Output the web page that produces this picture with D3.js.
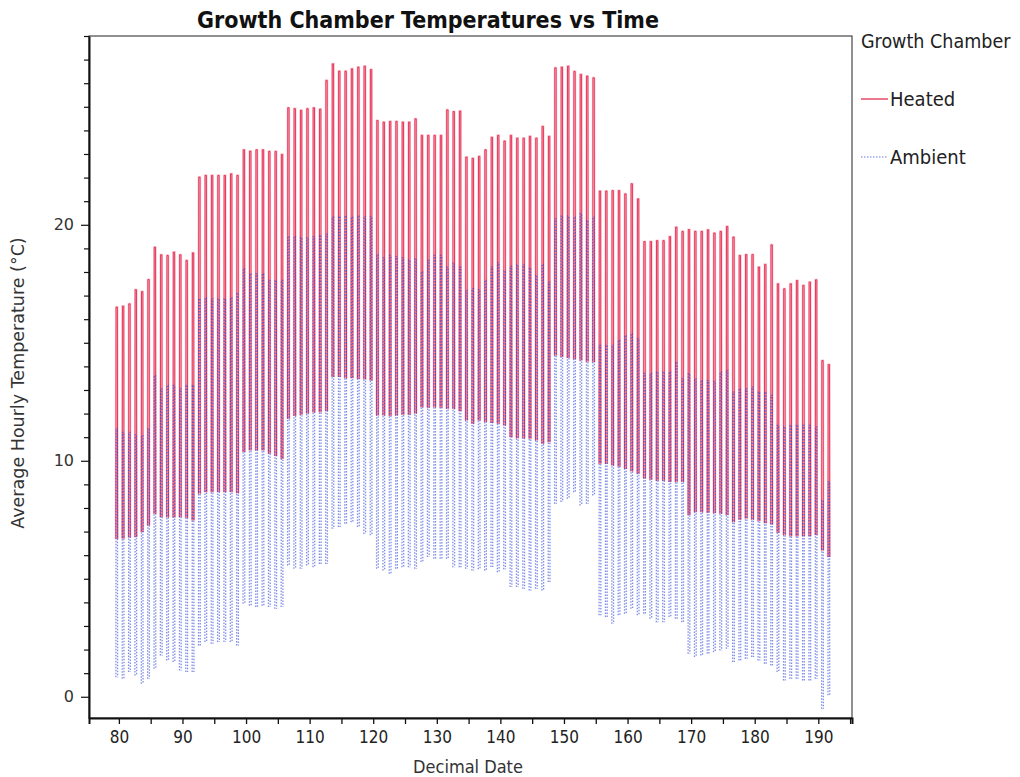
<!DOCTYPE html>
<html>
<head>
<meta charset="utf-8">
<script src="https://cdn.jsdelivr.net/npm/d3@7/dist/d3.min.js"></script>
<style>
  html, body { margin: 0; padding: 0; background: #fff; }
  svg { display: block; }
</style>
</head>
<body>
<svg id="chart" width="1020" height="777"></svg>
<script>
// Daily set-point extremes of the two growth chambers, one value per day
const firstDay = 79;
const heatedHigh = [
  16.51, 16.55, 16.65, 17.25, 17.17, 17.68,
  19.05, 18.73, 18.70, 18.84, 18.73, 18.49, 18.81,
  22.02, 22.09, 22.09, 22.09, 22.09, 22.16, 22.09,
  23.18, 23.12, 23.18, 23.18, 23.11, 23.11, 22.98,
  24.96, 24.92, 24.85, 24.92, 24.96, 24.90, 26.12,
  26.82, 26.51, 26.51, 26.61, 26.68, 26.72, 26.58,
  24.42, 24.35, 24.38, 24.38, 24.35, 24.35, 24.49,
  23.79, 23.79, 23.79, 23.79,
  24.87, 24.80, 24.82,
  22.87, 22.82, 22.90, 23.18, 23.71, 23.79, 23.55, 23.79, 23.67, 23.67, 23.75, 23.67, 24.17, 23.75,
  26.65, 26.68, 26.72, 26.50, 26.37, 26.30, 26.23,
  21.43, 21.43, 21.45, 21.45, 21.31, 21.74, 21.10,
  19.29, 19.29, 19.33, 19.33, 19.50, 19.90, 19.72,
  19.80, 19.72, 19.72, 19.79, 19.65, 19.72, 19.93,
  19.48, 18.70, 18.74, 18.74, 18.21, 18.32, 19.15,
  17.50, 17.29, 17.50, 17.64, 17.43, 17.57, 17.67,
  14.25, 14.08
];
const heatedLow = [
  6.69, 6.70, 6.75, 6.77, 6.98, 7.26,
  7.75, 7.61, 7.60, 7.60, 7.61, 7.58, 7.47,
  8.60, 8.67, 8.67, 8.67, 8.67, 8.67, 8.62,
  10.37, 10.44, 10.44, 10.44, 10.30, 10.20, 10.08,
  11.78, 11.90, 11.95, 12.00, 12.05, 12.06, 12.10,
  13.55, 13.55, 13.50, 13.50, 13.47, 13.45, 13.40,
  11.92, 11.92, 11.90, 11.92, 11.95, 11.95, 12.00,
  12.27, 12.25, 12.27, 12.25,
  12.20, 12.20, 12.10,
  11.71, 11.57, 11.71, 11.64, 11.60, 11.57, 11.50, 11.00, 10.95, 10.95, 10.93, 10.86, 10.72, 10.79,
  14.46, 14.40, 14.35, 14.30, 14.25, 14.20, 14.18,
  9.87, 9.87, 9.80, 9.75, 9.65, 9.55, 9.45,
  9.25, 9.20, 9.15, 9.15, 9.10, 9.10, 9.10,
  7.70, 7.82, 7.82, 7.80, 7.78, 7.75, 7.70,
  7.40, 7.50, 7.55, 7.50, 7.45, 7.35, 7.30,
  6.95, 6.85, 6.80, 6.80, 6.80, 6.80, 6.85,
  6.20, 5.92
];
const ambientHigh = [
  11.36, 11.20, 11.20, 11.10, 11.07, 11.36,
  13.61, 13.05, 13.19, 13.19, 13.05, 13.19, 13.19,
  16.86, 16.90, 16.86, 16.86, 16.86, 16.90, 17.10,
  18.14, 17.92, 17.92, 17.92, 17.64, 17.64, 17.64,
  19.50, 19.50, 19.45, 19.45, 19.50, 19.55, 19.60,
  20.32, 20.35, 20.37, 20.32, 20.37, 20.35, 20.35,
  18.73, 18.60, 18.70, 18.65, 18.60, 18.50, 18.56,
  18.00, 18.49, 18.70, 18.70,
  18.20, 18.37, 18.20,
  17.22, 17.29, 17.25, 17.64, 18.21, 18.39, 18.04, 18.24, 18.30, 18.30, 18.16, 17.85, 18.32, 17.57,
  20.25, 20.37, 20.37, 20.32, 20.47, 20.18, 20.32,
  14.89, 14.89, 14.89, 15.10, 15.30, 15.38, 15.17,
  13.70, 13.70, 13.76, 13.76, 13.76, 14.18, 13.47,
  13.69, 13.47, 13.40, 13.40, 13.36, 13.76, 13.83,
  12.91, 13.05, 13.05, 13.12, 12.91, 12.91, 12.77,
  11.50, 11.43, 11.50, 11.50, 11.50, 11.50, 11.43,
  8.32, 9.10
];
const ambientLow = [
  0.83, 0.76, 1.05, 0.90, 0.55, 0.76,
  1.19, 1.75, 1.54, 1.47, 1.11, 1.05, 1.05,
  2.17, 2.32, 2.25, 2.32, 2.32, 2.32, 2.17,
  3.94, 3.86, 3.80, 3.86, 3.80, 3.73, 3.80,
  5.56, 5.42, 5.42, 5.56, 5.49, 5.63, 5.63,
  7.12, 7.19, 7.33, 7.40, 7.19, 6.90, 6.84,
  5.42, 5.35, 5.21, 5.42, 5.49, 5.49, 5.42,
  5.71, 5.92, 5.85, 5.85,
  5.85, 5.49, 5.49,
  5.42, 5.35, 5.40, 5.35, 5.50, 5.28, 5.40, 4.65, 4.65, 4.58, 4.50, 4.58, 4.50, 4.86,
  8.18, 8.25, 8.39, 8.67, 8.10, 8.18, 8.53,
  3.45, 3.38, 3.09, 3.45, 3.52, 3.73, 3.45,
  3.52, 3.31, 3.16, 3.16, 3.38, 3.31, 3.16,
  1.82, 1.68, 1.75, 1.82, 1.89, 1.96, 2.03,
  1.47, 1.54, 1.61, 1.68, 1.54, 1.40, 1.33,
  1.05, 0.69, 0.76, 0.76, 0.69, 0.69, 0.76,
  -0.51, 0.06
];

// Daily chamber program: hour of day and fraction of the way from night to day set point
const programHours = [12.6, 13.4, 18.4, 19.2];
const programLevels = [0, 1, 1, 0];

// Axis ticks
const xTickValues = [80, 90, 100, 110, 120, 130, 140, 150, 160, 170, 180, 190];
const yTickValues = [0, 10, 20];

const seriesNames = ["Heated", "Ambient"];

const svg = d3.select("#chart");
const margin = { left: 89, right: 168, top: 36, bottom: 59 };
const W = 1020, H = 777;

const x = d3.scaleLinear().domain([75.3, 195.3]).range([margin.left, W - margin.right]);
const y = d3.scaleLinear().domain([-0.9, 28.0]).range([H - margin.bottom, margin.top]);

// One short trace per day: night set point -> day set point -> night set point
function dailyCycles(lows, highs) {
  return lows.map((lo, i) => {
    const hi = highs[i];
    return programHours.map((h, k) => ({
      t: firstDay + i + h / 24,
      v: lo + programLevels[k] * (hi - lo)
    }));
  });
}

const heated = dailyCycles(heatedLow, heatedHigh);
const ambient = dailyCycles(ambientLow, ambientHigh);

const line = d3.line().x(d => x(d.t)).y(d => y(d.v));

svg.append("defs").append("clipPath").attr("id", "clip")
  .append("rect")
  .attr("x", margin.left).attr("y", margin.top)
  .attr("width", W - margin.left - margin.right)
  .attr("height", H - margin.top - margin.bottom);

const lines = svg.append("g").attr("clip-path", "url(#clip)");

lines.append("g").selectAll("path").data(heated).join("path")
  .attr("d", line)
  .attr("fill", "none")
  .attr("stroke", "#f49aae")
  .attr("stroke-opacity", 0.55)
  .attr("stroke-width", 2.2);

lines.append("g").selectAll("path").data(heated).join("path")
  .attr("d", line)
  .attr("fill", "none")
  .attr("stroke", "#e3173f")
  .attr("stroke-opacity", 0.8)
  .attr("stroke-width", 1);

lines.append("g").selectAll("path").data(ambient).join("path")
  .attr("d", line)
  .attr("fill", "none")
  .attr("stroke", "#2b43d4")
  .attr("stroke-opacity", 0.6)
  .attr("stroke-width", 1.3)
  .attr("stroke-dasharray", "1.5,1.5");

// Frame
svg.append("rect")
  .attr("x", margin.left).attr("y", margin.top)
  .attr("width", W - margin.left - margin.right)
  .attr("height", H - margin.top - margin.bottom)
  .attr("fill", "none").attr("stroke", "#222").attr("stroke-width", 1);

const narrowFont = "'DejaVu Sans Condensed', 'Liberation Sans Narrow', sans-serif";

// X axis
const xAxis = d3.axisBottom(x).tickValues(d3.range(80, 196, 5)).tickSize(6)
  .tickFormat(d => xTickValues.includes(d) ? d : "");
const gx = svg.append("g").attr("transform", `translate(0,${H - margin.bottom})`).call(xAxis);
gx.select(".domain").attr("stroke", "#111").attr("stroke-width", 2);
gx.selectAll(".tick line").attr("stroke", "#111").attr("stroke-width", 1.3);
gx.selectAll(".tick text").attr("font-family", narrowFont).attr("font-size", 17)
  .attr("fill", "#222").attr("dy", "0.95em");

// Y axis
const yAxis = d3.axisLeft(y).tickValues(d3.range(0, 29, 1))
  .tickSize(0).tickFormat(d => yTickValues.includes(d) ? d : "");
const gy = svg.append("g").attr("transform", `translate(${margin.left},0)`).call(yAxis);
gy.select(".domain").attr("stroke", "#111").attr("stroke-width", 2);
gy.selectAll(".tick line")
  .attr("x2", d => yTickValues.includes(d) ? -8 : -5)
  .attr("stroke", "#111").attr("stroke-width", 1.2);
gy.selectAll(".tick text").attr("x", -15).attr("font-family", "'DejaVu Sans', sans-serif")
  .attr("font-size", 16).attr("fill", "#333");

// Titles
svg.append("text")
  .attr("x", 428).attr("y", 28)
  .attr("text-anchor", "middle")
  .attr("font-family", narrowFont).attr("font-weight", "bold").attr("font-size", 23)
  .attr("fill", "#111")
  .text("Growth Chamber Temperatures vs Time");

svg.append("text")
  .attr("x", 468).attr("y", 773)
  .attr("text-anchor", "middle")
  .attr("font-family", narrowFont).attr("font-size", 18).attr("fill", "#333")
  .text("Decimal Date");

svg.append("text")
  .attr("transform", "translate(24,383) rotate(-90)")
  .attr("text-anchor", "middle")
  .attr("font-family", "'DejaVu Sans', sans-serif").attr("font-size", 17.5).attr("fill", "#333")
  .text("Average Hourly Temperature (°C)");

// Legend
const legend = svg.append("g");
legend.append("text")
  .attr("x", 861).attr("y", 48)
  .attr("font-family", narrowFont).attr("font-size", 19.5).attr("fill", "#222")
  .text("Growth Chamber");

const legendStyles = [
  { stroke: "#e3173f", opacity: 0.9, dash: null, width: 1.3 },
  { stroke: "#2b43d4", opacity: 0.7, dash: "1.5,1.5", width: 1.2 }
];
seriesNames.forEach((name, i) => {
  const cy = 99 + i * 58;
  const s = legendStyles[i];
  legend.append("line")
    .attr("x1", 861).attr("x2", 888).attr("y1", cy).attr("y2", cy)
    .attr("stroke", s.stroke).attr("stroke-opacity", s.opacity)
    .attr("stroke-width", s.width)
    .attr("stroke-dasharray", s.dash);
  legend.append("text")
    .attr("x", 890).attr("y", cy + 7)
    .attr("font-family", narrowFont).attr("font-size", 20).attr("fill", "#222")
    .text(name);
});
</script>
</body>
</html>
